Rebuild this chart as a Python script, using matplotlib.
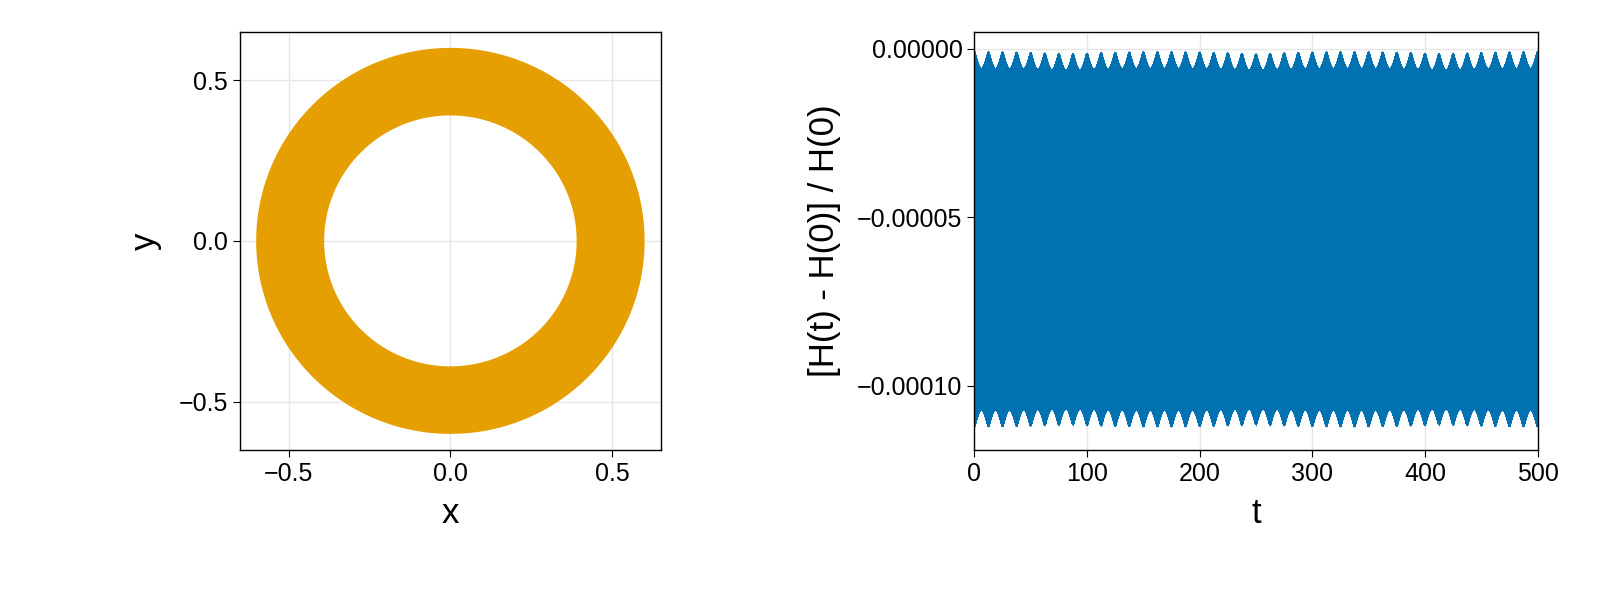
import numpy as np
import matplotlib.pyplot as plt
from matplotlib.path import Path
from matplotlib.patches import PathPatch

# Orbit: annulus in the x-y plane
R_INNER = 0.39
R_OUTER = 0.60
ORBIT_COLOR = "#E69F00"

# Relative energy error: dense oscillation, envelope
T_END = 500
N_SCALLOPS = 40          # bumps along the top/bottom edge
ERR_TOP = -0.000001      # top of the bumps
ERR_TOP_GAP = -0.000006  # between top bumps
ERR_BOT = -0.000112      # bottom of the bumps
ERR_BOT_GAP = -0.000107  # between bottom bumps
ERR_COLOR = "#0072B2"

plt.rcParams["font.family"] = ["Liberation Sans", "DejaVu Sans"]

fig = plt.figure(figsize=(16, 6), dpi=100)
ax1 = fig.add_axes([0.150, 0.25, 0.263, 0.697])
ax2 = fig.add_axes([0.609, 0.25, 0.352, 0.697])

# left: filled annulus made from two circles
th = np.linspace(0, 2 * np.pi, 400)
outer = np.column_stack([R_OUTER * np.cos(th), R_OUTER * np.sin(th)])
inner = np.column_stack([R_INNER * np.cos(th[::-1]), R_INNER * np.sin(th[::-1])])
verts = np.vstack([outer, inner])
codes = np.full(len(verts), Path.LINETO)
codes[0] = Path.MOVETO
codes[len(outer)] = Path.MOVETO
ax1.add_patch(PathPatch(Path(verts, codes), facecolor=ORBIT_COLOR, edgecolor="none", zorder=2))
ax1.set_xlim(-0.65, 0.65)
ax1.set_ylim(-0.65, 0.65)
ax1.set_xticks([-0.5, 0.0, 0.5])
ax1.set_yticks([-0.5, 0.0, 0.5])
ax1.set_xlabel("x", fontsize=25, labelpad=8)
ax1.set_ylabel("y", fontsize=25, labelpad=12)

# right: energy error band
t = np.linspace(0, T_END, 200000)
s = np.abs(np.sin(np.pi * t * N_SCALLOPS / T_END))
upper = ERR_TOP + (ERR_TOP_GAP - ERR_TOP) * s
lower = ERR_BOT + (ERR_BOT_GAP - ERR_BOT) * s
fast = 0.5 * (1 - np.cos(2 * np.pi * t * 60))
err = upper + (lower - upper) * fast
ax2.plot(t, err, color=ERR_COLOR, lw=1.5, zorder=2)
ax2.fill_between(t, upper, lower, color=ERR_COLOR, lw=0, zorder=2)
ax2.set_xlim(0, T_END)
ax2.set_ylim(-0.000119, 0.00000506)
ax2.set_xticks([0, 100, 200, 300, 400, 500])
ax2.set_yticks([0.0, -0.00005, -0.0001])
ax2.set_yticklabels(["0.00000", "\u22120.00005", "\u22120.00010"])
ax2.set_xlabel("t", fontsize=25, labelpad=8)
ax2.set_ylabel("[H(t) - H(0)] / H(0)", fontsize=25, labelpad=12)

for ax in (ax1, ax2):
    ax.grid(True, color="#e6e6e6", lw=1, zorder=0)
    ax.set_axisbelow(True)
    ax.tick_params(labelsize=18, length=5, direction="out")
    for sp in ax.spines.values():
        sp.set_linewidth(1)

fig.savefig("out.png", dpi=100)
